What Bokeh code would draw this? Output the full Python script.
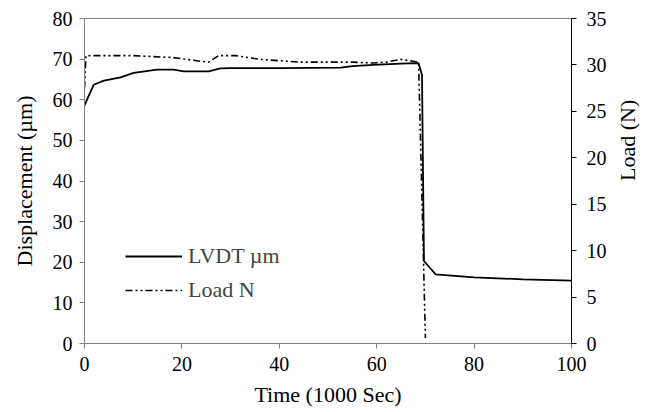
import math
from bokeh.plotting import figure
from bokeh.models import Range1d, LinearAxis, Legend, LegendItem, FixedTicker
from bokeh.embed import file_html
from bokeh.resources import INLINE

# LVDT displacement (um) vs time (1000 s)
t_lvdt = [0, 1.9, 4, 7.4, 10.1, 14.9, 18.3, 20.4, 25.5, 27.9, 30, 40, 52.6, 55, 59.3, 65, 68.6, 69.3, 69.7, 72.1, 80, 90, 100]
lvdt = [58.6, 63.7, 64.7, 65.5, 66.6, 67.4, 67.4, 67.0, 67.0, 67.7, 67.8, 67.8, 67.9, 68.3, 68.6, 68.9, 69.0, 66.1, 20.3, 17.0, 16.3, 15.8, 15.5]

# Load (N) vs time (1000 s)
t_load = [0, 0.3, 10, 18, 23.8, 25.5, 27.5, 31, 36, 44.4, 55, 59.3, 62, 64.9, 68.6, 70]
load = [27.5, 31.0, 31.0, 30.8, 30.4, 30.3, 31.0, 31.0, 30.6, 30.3, 30.3, 30.2, 30.3, 30.6, 30.3, 0.6]

x_ticks = [0, 20, 40, 60, 80, 100]
y_ticks = [0, 10, 20, 30, 40, 50, 60, 70, 80]
y2_ticks = [0, 5, 10, 15, 20, 25, 30, 35]

FONT = "Liberation Serif"
TICK_FS = "20px"
LAB_FS = "22px"

p = figure(width=652, height=412, frame_width=487, frame_height=325,
           x_range=Range1d(0, 100), y_range=Range1d(0, 80),
           output_backend="svg", toolbar_location=None,
           min_border_left=84, min_border_right=81, min_border_top=18, min_border_bottom=69)
p.extra_y_ranges = {"load": Range1d(0, 35)}

p.xgrid.visible = False
p.ygrid.visible = False
p.outline_line_color = "#808080"
p.outline_line_width = 1
p.background_fill_color = "white"
p.border_fill_color = "white"

r1 = p.line(t_lvdt, lvdt, line_color="black", line_width=1.8)
r2 = p.line(t_load, load, line_color="black", line_width=1.6,
            line_dash="7 3 2 3 2 3", y_range_name="load")

right = LinearAxis(y_range_name="load", axis_label="Load (N)")
p.add_layout(right, "right")

p.xaxis.axis_label = "Time (1000 Sec)"
p.yaxis[0].axis_label = "Displacement (µm)"
p.xaxis.ticker = FixedTicker(ticks=x_ticks)
p.yaxis[0].ticker = FixedTicker(ticks=y_ticks)
right.ticker = FixedTicker(ticks=y2_ticks)

for ax in [p.xaxis[0], p.yaxis[0], right]:
    ax.axis_label_text_font = FONT
    ax.axis_label_text_font_size = LAB_FS
    ax.axis_label_text_font_style = "normal"
    ax.axis_label_text_color = "black"
    ax.major_label_text_font = FONT
    ax.major_label_text_font_size = TICK_FS
    ax.major_label_text_color = "black"
    ax.minor_tick_line_color = None
    ax.major_tick_in = 0
    ax.major_tick_out = 5

p.xaxis[0].axis_line_color = "#808080"
p.xaxis[0].major_tick_line_color = "#808080"
p.yaxis[0].axis_line_color = "#808080"
p.yaxis[0].major_tick_line_color = "#808080"
right.axis_line_color = "black"
right.major_tick_line_color = "black"

p.xaxis[0].major_label_standoff = 8
p.yaxis[0].major_label_standoff = 7
right.major_label_standoff = 10
p.xaxis[0].axis_label_standoff = 8
p.yaxis[0].axis_label_standoff = 13
right.axis_label_standoff = 18
right.axis_label_orientation = math.pi / 2

legend = Legend(items=[LegendItem(label="LVDT µm", renderers=[r1]),
                       LegendItem(label="Load N", renderers=[r2])],
                location=(41, 40), orientation="vertical")
legend.label_text_font = FONT
legend.label_text_font_size = LAB_FS
legend.glyph_width = 57
legend.glyph_height = 20
legend.label_height = 20
legend.spacing = 8
legend.padding = 0
legend.margin = 0
legend.label_standoff = 6
legend.border_line_color = None
legend.background_fill_alpha = 0
p.add_layout(legend, "center")

open("out.html", "w").write(file_html(p, INLINE))
